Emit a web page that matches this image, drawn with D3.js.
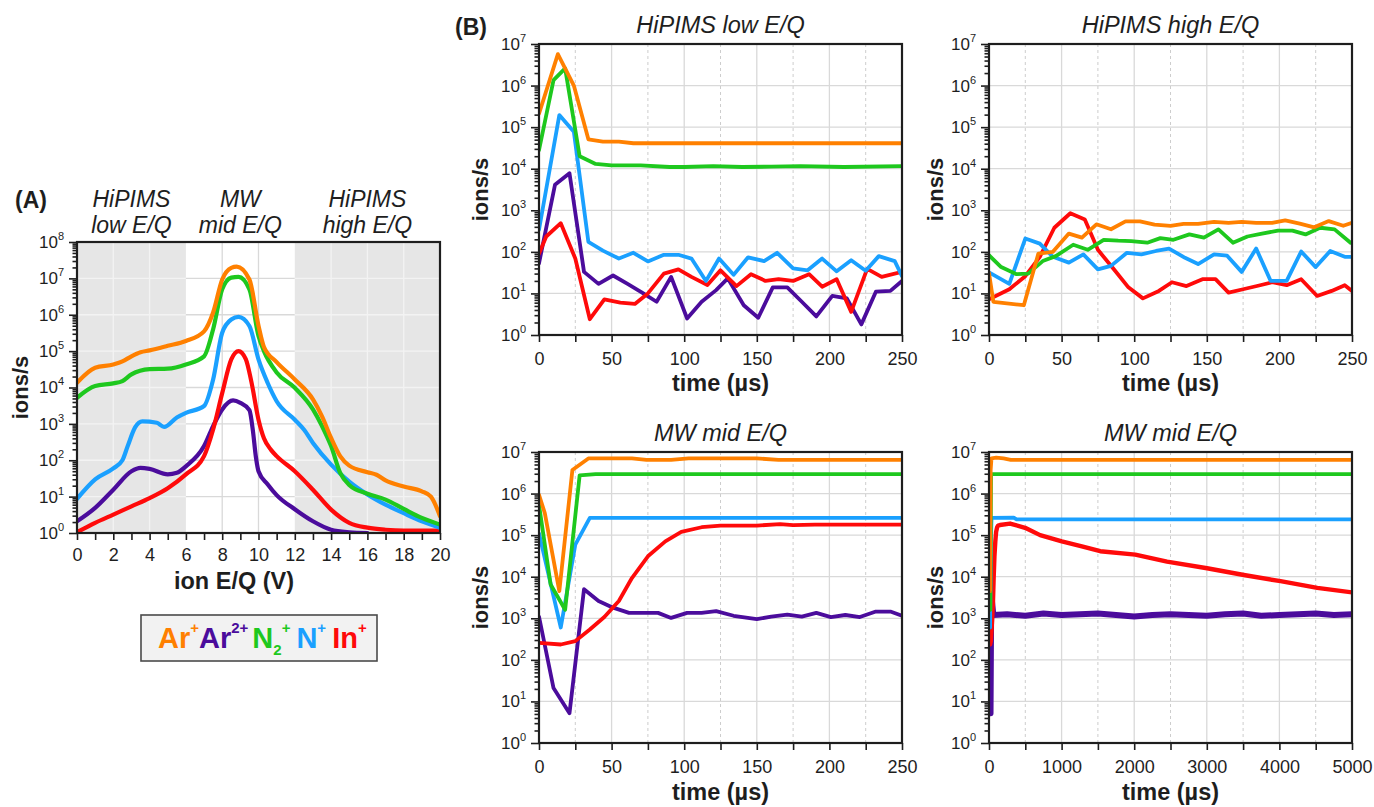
<!DOCTYPE html>
<html>
<head>
<meta charset="utf-8">
<script src="https://cdn.jsdelivr.net/npm/d3@7"></script>
<style>
  body { margin: 0; background: #fff; }
  svg { font-family: "Liberation Sans", Arial, sans-serif; }
</style>
</head>
<body>
<svg id="chart" width="1374" height="807"></svg>
<script>
/* DATA */

// (A) ion energy distributions: [E/Q in V, ions/s]
const eqAr1 = [[0,1.35e4],[1,3.5e4],[2,4.3e4],[2.5,5.2e4],[3,7.2e4],[3.5,9.3e4],[4,1.05e5],[5,1.4e5],[6,1.9e5],[7,3.5e5],[7.5,1.15e6],[8,9.3e6],[8.5,1.95e7],[8.8,2.1e7],[9.5,9.3e6],[10,5e5],[10.3,1.3e5],[11,5e4],[12,1.66e4],[13,4.7e3],[13.5,1.6e3],[14,410],[14.5,130],[15,71],[16,47],[16.5,40],[17,28],[18,19],[19,14],[19.5,10],[20,2.9]];
const eqAr2 = [[0,2.1],[1,4.9],[2,15.5],[3,50],[3.5,62],[4,58],[5,41],[5.5,45],[6,68],[7,245],[7.5,870],[8,2.5e3],[8.6,4.4e3],[9,3.8e3],[9.5,2.4e3],[9.7,600],[9.85,130],[10,50],[10.5,22],[11,11],[12,4.5],[13,2.1],[14,1.23],[15,1.05],[16,1]];
const eqN2 = [[0,5.2e3],[1,1.1e4],[2,1.3e4],[2.5,1.5e4],[3,2.3e4],[4,3.2e4],[5,3.3e4],[6,4.3e4],[7,7.2e4],[7.5,4e5],[8,5e6],[8.5,1.05e7],[8.9,1.1e7],[9.5,5e6],[10,2.6e5],[10.3,1e5],[11,2.6e4],[12,9.8e3],[13,2.5e3],[13.5,870],[14,245],[14.5,45],[15,21],[16,12],[17,8.3],[18,4.6],[19,2.6],[20,1.7]];
const eqN1 = [[0,8.7],[1,30],[2,60],[2.5,100],[2.8,250],[3.2,800],[3.6,1.17e3],[4.4,1.07e3],[4.8,830],[5.5,1.5e3],[6,2e3],[7,3.1e3],[7.5,1.66e4],[8,3.2e5],[8.5,7.4e5],[8.9,8.7e5],[9.5,4.9e5],[10,5.9e4],[10.5,1.35e4],[11,4.2e3],[12,1.3e3],[12.5,700],[13,300],[14,76],[15,26],[16,11.5],[17,6],[18,3.5],[19,2.1],[20,1.4]];
const eqIn = [[0,1.05],[1,1.9],[2,3.2],[3,5.4],[4,9.1],[5,17],[6,41],[7,130],[7.5,700],[8,7e3],[8.5,5.9e4],[8.9,1e5],[9.3,6e4],[9.6,1.5e4],[10,1.3e3],[10.3,400],[10.7,190],[11,130],[12,50],[13,15.5],[14,4.4],[15,1.9],[16,1.4],[17,1.23],[18,1.17],[20,1.17]];

// (B) HiPIMS low E/Q: [time in µs, ions/s]
const lowAr1 = [[0,2.1e5],[13,5.7e6],[24,1.0e6],[34,5.1e4],[44,4.5e4],[55,4.5e4],[65,4.1e4],[100,4.1e4],[150,4.1e4],[200,4.1e4],[250,4.1e4]];
const lowAr2 = [[0,53],[11,4.1e3],[21,7.8e3],[31,33],[41,17],[51,27],[61,17],[71,10.5],[81,6.3],[91,25],[102,2.5],[112,6.3],[122,12],[130,23],[141,5.2],[151,2.6],[161,14],[171,14],[181,6.3],[191,2.8],[202,8.7],[212,7.6],[222,1.8],[232,11],[242,11.5],[250,20]];
const lowN2 = [[0,2.8e4],[10,1.35e6],[18,2.6e6],[28,2.0e4],[39,1.3e4],[50,1.2e4],[70,1.2e4],[90,1.1e4],[100,1.1e4],[120,1.15e4],[140,1.1e4],[160,1.12e4],[180,1.15e4],[210,1.1e4],[250,1.15e4]];
const lowN1 = [[0,340],[14,1.95e5],[24,7.8e4],[34,174],[44,107],[55,69],[65,95],[75,59],[86,85],[96,85],[105,69],[115,20],[124,69],[134,28],[144,74],[155,60],[164,95],[175,40],[185,36],[195,69],[205,34],[215,63],[225,35],[234,79],[245,60],[250,26]];
const lowIn = [[0,90],[5,234],[15,490],[25,69],[35,2.4],[45,7.2],[56,6],[66,5.6],[75,10],[86,30],[96,38],[105,25],[116,16],[125,36],[136,15],[146,29],[156,20],[165,22],[175,20],[186,29],[195,14.5],[205,22],[215,3.6],[226,39],[236,25],[250,33]];

// (B) HiPIMS high E/Q (no Ar2+ trace in this window)
const highAr1 = [[0,31],[3,6.3],[24,5.2],[34,91],[44,100],[55,275],[64,220],[74,460],[84,350],[94,540],[104,540],[114,450],[125,420],[134,470],[144,470],[155,525],[165,500],[174,525],[184,500],[195,500],[204,575],[214,480],[224,390],[234,550],[244,425],[250,500]];
const highAr2 = [];
const highN2 = [[0,83],[8,44],[19,29],[27,30],[37,60],[46,79],[58,148],[68,112],[79,195],[89,186],[98,182],[109,166],[118,214],[127,195],[138,263],[148,219],[158,347],[168,166],[178,234],[188,275],[199,324],[209,324],[218,263],[228,380],[238,347],[249,166]];
const highN1 = [[0,32],[14,17],[25,209],[35,158],[44,76],[55,55],[65,87],[75,38],[84,46],[95,95],[105,87],[115,105],[124,120],[135,72],[144,51],[155,87],[164,81],[174,33],[184,120],[194,20],[205,20],[215,102],[225,43],[235,105],[245,76],[250,76]];
const highIn = [[0,7.2],[14,12.6],[25,26],[35,76],[45,380],[56,850],[66,600],[75,112],[86,38],[96,14],[106,7.6],[117,11.5],[126,18.6],[136,15],[147,22],[156,22],[165,10.5],[175,12.6],[186,15.5],[195,18.6],[205,15.8],[215,22],[226,8.7],[236,11.5],[245,15.8],[250,11.5]];

// (B) MW mid E/Q, first 250 µs
const midAr1 = [[0,9.3e5],[4,3.4e5],[14,4.5e3],[23,3.7e6],[34,7e6],[64,7e6],[74,6.5e6],[91,6.5e6],[103,7e6],[150,7e6],[165,6.5e6],[250,6.5e6]];
const midAr2 = [[0,1.1e3],[10,21],[21,5.2],[31,5e3],[41,2.6e3],[51,1.8e3],[62,1.35e3],[73,1.35e3],[82,1.35e3],[91,1.02e3],[102,1.35e3],[112,1.35e3],[122,1.48e3],[134,1.15e3],[150,950],[160,1.1e3],[171,1.23e3],[181,1.1e3],[191,1.35e3],[201,1.07e3],[211,1.2e3],[221,1.07e3],[232,1.45e3],[242,1.45e3],[250,1.15e3]];
const midN2 = [[0,5.4e5],[8,6.5e3],[18,1.6e3],[28,2.75e6],[39,2.95e6],[250,2.95e6]];
const midN1 = [[0,1.1e5],[15,600],[25,5.9e4],[35,2.6e5],[250,2.6e5]];
const midIn = [[0,257],[15,234],[25,282],[35,537],[45,1.07e3],[55,2.6e3],[64,9.3e3],[75,3.1e4],[87,7.1e4],[98,1.2e5],[112,1.55e5],[125,1.7e5],[150,1.7e5],[166,1.85e5],[175,1.75e5],[190,1.8e5],[250,1.8e5]];

// (B) MW mid E/Q, later part of the 5000 µs record
const longAr1 = [[100,7.3e6],[200,7e6],[300,6.5e6],[5000,6.5e6]];
const longAr2 = [[60,1.2e3],[250,1.25e3],[500,1.15e3],[750,1.3e3],[1000,1.2e3],[1250,1.25e3],[1500,1.3e3],[1750,1.2e3],[2000,1.1e3],[2250,1.2e3],[2500,1.25e3],[2750,1.2e3],[3000,1.15e3],[3250,1.25e3],[3500,1.3e3],[3750,1.15e3],[4000,1.2e3],[4250,1.25e3],[4500,1.3e3],[4750,1.2e3],[5000,1.25e3]];
const longN2 = [[5000,2.95e6]];
const longN1 = [[340,2.65e5],[380,2.4e5],[5000,2.4e5]];
const longIn = [[150,1.75e5],[290,1.9e5],[497,1.5e5],[704,1.0e5],[1003,7.1e4],[1279,5.4e4],[1532,4.1e4],[2015,3.4e4],[2452,2.3e4],[3004,1.6e4],[3510,1.1e4],[4016,7.8e3],[4522,5.4e3],[5000,4.2e3]];

const colors = { ar1: "#ff8000", ar2: "#4b0c9c", n2: "#1ec81e", n1: "#1aa0ff", inn: "#ff0a0a" };

/* DRAWING */
const svg = d3.select("#chart");
const ink = "#1e1e1e";

function drawPanel(p) {
  const x = d3.scaleLinear().domain([0, p.xMax]).range([p.x0, p.x1]);
  const y = d3.scaleLog().domain([1, p.yMax]).range([p.y1, p.y0]);
  const decades = d3.range(0, Math.round(Math.log10(p.yMax)) + 1).map(k => Math.pow(10, k));
  const minors = [];
  decades.slice(0, -1).forEach(d => { for (let m = 2; m < 10; m++) minors.push(d * m); });
  const xTicks = d3.range(0, p.xMax + p.step / 2, p.step);
  const bands = p.bands || [[0, p.xMax, false]];
  const g = svg.append("g");

  // background bands
  bands.filter(b => b[2]).forEach(b => {
    g.append("rect").attr("x", x(b[0])).attr("y", p.y0)
      .attr("width", x(b[1]) - x(b[0])).attr("height", p.y1 - p.y0)
      .attr("fill", "#e6e6e6");
  });

  // grid
  bands.forEach(b => {
    const col = b[2] ? "#f3f3f3" : "#d9d9d9";
    decades.slice(1, -1).forEach(d => {
      g.append("line").attr("x1", x(b[0])).attr("x2", x(b[1]))
        .attr("y1", y(d)).attr("y2", y(d)).attr("stroke", col).attr("stroke-width", 1.3);
    });
    xTicks.filter(t => t > b[0] && t < b[1]).forEach(t => {
      const major = t % p.labelStep === 0;
      if (!major && !p.dashedMinor) return;
      g.append("line").attr("x1", x(t)).attr("x2", x(t)).attr("y1", p.y0).attr("y2", p.y1)
        .attr("stroke", major ? col : "#cdcdcd")
        .attr("stroke-width", major ? 1.3 : 1)
        .attr("stroke-dasharray", major ? null : "3,3");
    });
  });

  // lines
  const clipId = "clip" + p.id;
  svg.append("clipPath").attr("id", clipId).append("rect")
    .attr("x", p.x0).attr("y", p.y0).attr("width", p.x1 - p.x0).attr("height", p.y1 - p.y0);
  const line = d3.line().x(d => x(d[0])).y(d => y(d[1])).curve(p.curve || d3.curveLinear);
  g.append("g").attr("clip-path", `url(#${clipId})`)
    .selectAll("path").data(p.series.filter(s => s.data.length)).join("path")
    .attr("d", s => line(s.data))
    .attr("fill", "none")
    .attr("stroke", s => s.color)
    .attr("stroke-width", s => s.width || p.lineWidth)
    .attr("stroke-linejoin", "round")
    .attr("stroke-linecap", "round");

  // frame
  g.append("rect").attr("x", p.x0).attr("y", p.y0)
    .attr("width", p.x1 - p.x0).attr("height", p.y1 - p.y0)
    .attr("fill", "none").attr("stroke", ink).attr("stroke-width", 2.2);

  // axes
  const styleAxis = a => {
    a.select(".domain").remove();
    a.attr("font-family", null).attr("font-size", null);
    a.selectAll(".tick line").attr("stroke", ink).attr("stroke-width", 1.6);
  };
  g.append("g").attr("transform", `translate(0,${p.y1})`)
    .call(d3.axisBottom(x).tickValues(xTicks).tickSize(7).tickPadding(p.xPad)
      .tickFormat(d => d % p.labelStep === 0 ? d : ""))
    .call(styleAxis)
    .selectAll("text").attr("font-size", 18).attr("fill", ink);

  g.append("g").attr("transform", `translate(${p.x0},0)`)
    .call(d3.axisLeft(y).tickValues(minors).tickSize(4.5).tickFormat(""))
    .call(styleAxis);
  const ya = g.append("g").attr("transform", `translate(${p.x0},0)`)
    .call(d3.axisLeft(y).tickValues(decades).tickSize(8).tickPadding(5))
    .call(styleAxis);
  ya.selectAll(".tick text").each(function (d) {
    const t = d3.select(this).text(null).attr("font-size", 17).attr("fill", ink);
    t.append("tspan").text("10");
    t.append("tspan").attr("dy", -8).attr("font-size", 11).text(Math.round(Math.log10(d)));
  });

  // axis titles
  g.append("text").attr("transform", `translate(${p.yLabelX},${(p.y0 + p.y1) / 2}) rotate(-90)`)
    .attr("text-anchor", "middle").attr("font-weight", "bold").attr("font-size", 22)
    .attr("fill", ink).text("ions/s");
  g.append("text").attr("x", p.xLabelX || (p.x0 + p.x1) / 2).attr("y", p.xLabelY)
    .attr("text-anchor", "middle").attr("font-weight", "bold").attr("font-size", 23.5)
    .attr("fill", ink).text(p.xLabel);
  if (p.title) {
    g.append("text").attr("x", (p.x0 + p.x1) / 2).attr("y", p.y0 - 11)
      .attr("text-anchor", "middle").attr("font-style", "italic").attr("font-size", 23.5)
      .attr("fill", ink).text(p.title);
  }
  return x;
}

function series(ar1, ar2, n2, n1, inn) {
  return [
    { data: ar2, color: colors.ar2 },
    { data: inn, color: colors.inn },
    { data: n1, color: colors.n1 },
    { data: n2, color: colors.n2 },
    { data: ar1, color: colors.ar1 }
  ];
}

// (A)
const xA = drawPanel({
  id: "A", x0: 77, x1: 440, y0: 242, y1: 533, xMax: 20, yMax: 1e8, step: 1, labelStep: 2,
  xPad: 8, lineWidth: 4.2, curve: d3.curveMonotoneX,
  bands: [[0, 6, true], [6, 12, false], [12, 20, true]],
  series: series(eqAr1, eqAr2, eqN2, eqN1, eqIn),
  yLabelX: 28, xLabel: "ion E/Q (V)", xLabelX: 234, xLabelY: 589
});

// (B)
const tu = "time (µs)";
drawPanel({
  id: "TL", x0: 539, x1: 902, y0: 44, y1: 335, xMax: 250, yMax: 1e7, step: 25, labelStep: 50,
  dashedMinor: true, xPad: 10, lineWidth: 3.8, title: "HiPIMS low E/Q",
  series: series(lowAr1, lowAr2, lowN2, lowN1, lowIn),
  yLabelX: 488, xLabel: tu, xLabelY: 391
});
drawPanel({
  id: "TR", x0: 989, x1: 1352, y0: 44, y1: 335, xMax: 250, yMax: 1e7, step: 25, labelStep: 50,
  dashedMinor: true, xPad: 10, lineWidth: 3.8, title: "HiPIMS high E/Q",
  series: series(highAr1, highAr2, highN2, highN1, highIn),
  yLabelX: 943, xLabel: tu, xLabelY: 391
});
drawPanel({
  id: "BL", x0: 539, x1: 902, y0: 452, y1: 743, xMax: 250, yMax: 1e7, step: 25, labelStep: 50,
  dashedMinor: true, xPad: 10, lineWidth: 3.8, title: "MW mid E/Q",
  series: series(midAr1, midAr2, midN2, midN1, midIn),
  yLabelX: 488, xLabel: tu, xLabelY: 800
});
const early = (arr, tMax) => arr.filter(d => d[0] <= tMax);
const brSeries = series(
  early(midAr1, 34).concat(longAr1),
  early(midAr2, 41).concat(longAr2),
  early(midN2, 39).concat(longN2),
  early(midN1, 35).concat(longN1),
  early(midIn, 125).concat(longIn)
);
brSeries[0].width = 6;   // Ar2+ trace is a noisy band
brSeries[1].width = 4.4; // In+
drawPanel({
  id: "BR", x0: 989, x1: 1352, y0: 452, y1: 743, xMax: 5000, yMax: 1e7, step: 500, labelStep: 1000,
  dashedMinor: true, xPad: 10, lineWidth: 3.8, title: "MW mid E/Q",
  series: brSeries,
  yLabelX: 943, xLabel: tu, xLabelY: 800
});

// panel letters
svg.append("text").attr("x", 15).attr("y", 208).attr("font-weight", "bold")
  .attr("font-size", 23).attr("fill", ink).text("(A)");
svg.append("text").attr("x", 455).attr("y", 35).attr("font-weight", "bold")
  .attr("font-size", 23).attr("fill", ink).text("(B)");

// region labels above (A)
const regionLabels = [[3, "HiPIMS", "low E/Q"], [9, "MW", "mid E/Q"], [16, "HiPIMS", "high E/Q"]];
regionLabels.forEach(r => {
  const t = svg.append("text").attr("text-anchor", "middle").attr("font-style", "italic")
    .attr("font-size", 23).attr("fill", ink);
  t.append("tspan").attr("x", xA(r[0])).attr("y", 207).text(r[1]);
  t.append("tspan").attr("x", xA(r[0])).attr("y", 233).text(r[2]);
});

// legend
svg.append("rect").attr("x", 141).attr("y", 615).attr("width", 236).attr("height", 46)
  .attr("fill", "#f2f2f2").attr("stroke", "#4a4a4a").attr("stroke-width", 1.6);
const legendParts = [
  { t: "Ar", c: colors.ar1, dy: 0 }, { t: "+", c: colors.ar1, dy: -15, s: 15 },
  { t: "Ar", c: colors.ar2, dy: 15 }, { t: "2+", c: colors.ar2, dy: -15, s: 15 },
  { t: "N", c: colors.n2, dy: 15, dx: 4 }, { t: "2", c: colors.n2, dy: 7, s: 15 }, { t: "+", c: colors.n2, dy: -22, s: 15 },
  { t: "N", c: colors.n1, dy: 15, dx: 6 }, { t: "+", c: colors.n1, dy: -15, s: 15 },
  { t: "In", c: colors.inn, dy: 15, dx: 6 }, { t: "+", c: colors.inn, dy: -15, s: 15 }
];
const lg = svg.append("text").attr("x", 158).attr("y", 648).attr("font-weight", "bold").attr("font-size", 29);
legendParts.forEach(pt => {
  lg.append("tspan").attr("fill", pt.c).attr("dy", pt.dy).attr("dx", pt.dx || null)
    .attr("font-size", pt.s || null).text(pt.t);
});
</script>
</body>
</html>
